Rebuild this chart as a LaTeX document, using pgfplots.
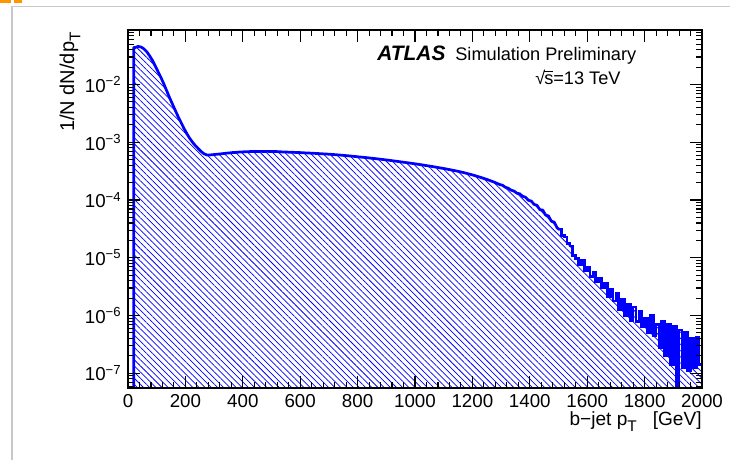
\documentclass[border=0pt]{standalone}
\usepackage{pgfplots}
\pgfplotsset{compat=1.18}
\usepackage{pgfplotstable}
\usetikzlibrary{patterns.meta}
\usepackage{fontspec}
\setmainfont{Liberation Sans}

% full histogram (bin low edges, 10 GeV bins) -- used for the hatched fill
\pgfplotstableread{
x y
20 1e-10
20 4.37e-2
30 4.57e-2
40 4.47e-2
50 4.17e-2
60 3.72e-2
70 3.16e-2
80 2.63e-2
90 2.09e-2
100 1.66e-2
110 1.32e-2
120 1.02e-2
130 7.76e-3
140 5.89e-3
150 4.57e-3
160 3.55e-3
170 2.75e-3
180 2.19e-3
190 1.74e-3
200 1.41e-3
210 1.17e-3
220 1.00e-3
230 8.71e-4
240 7.76e-4
250 6.92e-4
260 6.31e-4
270 6.03e-4
280 6.03e-4
290 6.10e-4
300 6.17e-4
310 6.24e-4
320 6.31e-4
330 6.41e-4
340 6.49e-4
350 6.56e-4
360 6.64e-4
370 6.68e-4
380 6.75e-4
390 6.79e-4
400 6.84e-4
410 6.87e-4
420 6.90e-4
430 6.92e-4
440 6.93e-4
450 6.95e-4
460 6.96e-4
470 6.94e-4
480 6.96e-4
490 6.95e-4
500 6.94e-4
510 6.92e-4
520 6.87e-4
530 6.82e-4
540 6.79e-4
550 6.76e-4
560 6.73e-4
570 6.70e-4
580 6.67e-4
590 6.64e-4
600 6.61e-4
610 6.56e-4
620 6.53e-4
630 6.49e-4
640 6.46e-4
650 6.41e-4
660 6.37e-4
670 6.32e-4
680 6.28e-4
690 6.24e-4
700 6.19e-4
710 6.14e-4
720 6.08e-4
730 6.03e-4
740 5.97e-4
750 5.90e-4
760 5.85e-4
770 5.78e-4
780 5.71e-4
790 5.65e-4
800 5.58e-4
810 5.52e-4
820 5.46e-4
830 5.40e-4
840 5.32e-4
850 5.26e-4
860 5.19e-4
870 5.12e-4
880 5.05e-4
890 4.98e-4
900 4.91e-4
910 4.84e-4
920 4.76e-4
930 4.70e-4
940 4.62e-4
950 4.55e-4
960 4.48e-4
970 4.41e-4
980 4.34e-4
990 4.27e-4
1000 4.20e-4
1010 4.13e-4
1020 4.06e-4
1030 3.98e-4
1040 3.91e-4
1050 3.84e-4
1060 3.77e-4
1070 3.70e-4
1080 3.62e-4
1090 3.55e-4
1100 3.48e-4
1110 3.40e-4
1120 3.33e-4
1130 3.25e-4
1140 3.18e-4
1150 3.10e-4
1160 3.02e-4
1170 2.94e-4
1180 2.85e-4
1190 2.77e-4
1200 2.68e-4
1210 2.59e-4
1220 2.50e-4
1230 2.41e-4
1240 2.32e-4
1250 2.23e-4
1260 2.14e-4
1270 2.05e-4
1280 1.95e-4
1290 1.86e-4
1300 1.78e-4
1310 1.70e-4
1320 1.58e-4
1330 1.51e-4
1340 1.41e-4
1350 1.35e-4
1360 1.26e-4
1370 1.20e-4
1380 1.10e-4
1390 1.02e-4
1400 9.33e-5
1410 8.71e-5
1420 7.94e-5
1430 7.08e-5
1440 6.46e-5
1450 5.75e-5
1460 5.13e-5
1470 4.47e-5
1480 3.98e-5
1490 3.47e-5
1500 2.95e-5
1510 2.45e-5
1520 2.30e-5
1530 1.75e-5
1540 1.60e-5
1550 1.10e-5
1560 9.80e-6
1570 7.60e-6
1580 8.91e-6
1590 6.03e-6
1600 6.76e-6
1610 4.79e-6
1620 5.62e-6
1630 3.80e-6
1640 4.37e-6
1650 3.02e-6
1660 3.55e-6
1670 2.09e-6
1680 2.82e-6
1690 1.78e-6
1700 2.40e-6
1710 1.26e-6
1720 1.91e-6
1730 1.00e-6
1740 1.58e-6
1750 8.32e-7
1760 1.41e-6
1770 7.94e-7
1780 1.20e-6
1790 6.31e-7
1800 8.91e-7
1810 5.01e-7
1820 1.00e-6
1830 4.47e-7
1840 7.08e-7
1850 2.82e-7
1860 7.94e-7
1870 2.00e-7
1880 7.08e-7
1890 1.41e-7
1900 6.61e-7
1910 1e-10
1920 5.62e-7
1930 1.26e-7
1940 5.01e-7
1950 1.12e-7
1960 3.98e-7
1970 1.26e-7
1980 4.17e-7
1990 1.41e-7
2000 1.41e-7
2000 1e-10
}\histdata

% smooth part of the outline (bin centres)
\pgfplotstableread{
x y
20 1e-10
20 4.37e-2
25 4.37e-2
35 4.57e-2
45 4.47e-2
55 4.17e-2
65 3.72e-2
75 3.16e-2
85 2.63e-2
95 2.09e-2
105 1.66e-2
115 1.32e-2
125 1.02e-2
135 7.76e-3
145 5.89e-3
155 4.57e-3
165 3.55e-3
175 2.75e-3
185 2.19e-3
195 1.74e-3
205 1.41e-3
215 1.17e-3
225 1.00e-3
235 8.71e-4
245 7.76e-4
255 6.92e-4
265 6.31e-4
275 6.03e-4
285 6.03e-4
295 6.10e-4
305 6.17e-4
315 6.24e-4
325 6.31e-4
335 6.41e-4
345 6.49e-4
355 6.56e-4
365 6.64e-4
375 6.68e-4
385 6.75e-4
395 6.79e-4
405 6.84e-4
415 6.87e-4
425 6.90e-4
435 6.92e-4
445 6.93e-4
455 6.95e-4
465 6.96e-4
475 6.94e-4
485 6.96e-4
495 6.95e-4
505 6.94e-4
515 6.92e-4
525 6.87e-4
535 6.82e-4
545 6.79e-4
555 6.76e-4
565 6.73e-4
575 6.70e-4
585 6.67e-4
595 6.64e-4
605 6.61e-4
615 6.56e-4
625 6.53e-4
635 6.49e-4
645 6.46e-4
655 6.41e-4
665 6.37e-4
675 6.32e-4
685 6.28e-4
695 6.24e-4
705 6.19e-4
715 6.14e-4
725 6.08e-4
735 6.03e-4
745 5.97e-4
755 5.90e-4
765 5.85e-4
775 5.78e-4
785 5.71e-4
795 5.65e-4
805 5.58e-4
815 5.52e-4
825 5.46e-4
835 5.40e-4
845 5.32e-4
855 5.26e-4
865 5.19e-4
875 5.12e-4
885 5.05e-4
895 4.98e-4
905 4.91e-4
915 4.84e-4
925 4.76e-4
935 4.70e-4
945 4.62e-4
955 4.55e-4
965 4.48e-4
975 4.41e-4
985 4.34e-4
995 4.27e-4
1005 4.20e-4
1015 4.13e-4
1025 4.06e-4
1035 3.98e-4
1045 3.91e-4
1055 3.84e-4
1065 3.77e-4
1075 3.70e-4
1085 3.62e-4
1095 3.55e-4
1105 3.48e-4
1115 3.40e-4
1125 3.33e-4
1135 3.25e-4
1145 3.18e-4
1155 3.10e-4
1165 3.02e-4
1175 2.94e-4
1185 2.85e-4
1195 2.77e-4
1205 2.68e-4
1215 2.59e-4
1225 2.50e-4
1235 2.41e-4
1245 2.32e-4
1255 2.23e-4
1265 2.14e-4
1275 2.05e-4
1285 1.95e-4
1295 1.86e-4
1305 1.80e-4
1315 1.66e-4
1325 1.60e-4
1335 1.48e-4
1345 1.43e-4
1355 1.31e-4
1365 1.28e-4
1375 1.16e-4
1385 1.12e-4
1395 9.90e-5
1405 9.60e-5
1415 8.40e-5
1425 8.10e-5
1435 6.80e-5
1445 6.70e-5
1455 5.50e-5
1465 5.30e-5
1475 4.30e-5
1485 4.15e-5
1495 3.30e-5
1505 3.05e-5
}\smoothdata

% noisy tail of the outline (bin low edges)
\pgfplotstableread{
x y
1505 3.05e-5
1510 2.45e-5
1520 2.30e-5
1530 1.75e-5
1540 1.60e-5
1550 1.10e-5
1560 9.80e-6
1570 7.60e-6
1580 8.91e-6
1590 6.03e-6
1600 6.76e-6
1610 4.79e-6
1620 5.62e-6
1630 3.80e-6
1640 4.37e-6
1650 3.02e-6
1660 3.55e-6
1670 2.09e-6
1680 2.82e-6
1690 1.78e-6
1700 2.40e-6
1710 1.26e-6
1720 1.91e-6
1730 1.00e-6
1740 1.58e-6
1750 8.32e-7
1760 1.41e-6
1770 7.94e-7
1780 1.20e-6
1790 6.31e-7
1800 8.91e-7
1810 5.01e-7
1820 1.00e-6
1830 4.47e-7
1840 7.08e-7
1850 2.82e-7
1860 7.94e-7
1870 2.00e-7
1880 7.08e-7
1890 1.41e-7
1900 6.61e-7
1910 1e-10
1920 5.62e-7
1930 1.26e-7
1940 5.01e-7
1950 1.12e-7
1960 3.98e-7
1970 1.26e-7
1980 4.17e-7
1990 1.41e-7
2000 1.41e-7
}\taildata

\definecolor{framegray}{RGB}{200,200,200}
\definecolor{rootblue}{RGB}{0,0,255}
\definecolor{weborange}{RGB}{255,150,0}

\begin{document}
\begin{tikzpicture}
\useasboundingbox (0,0) rectangle (401.5pt,253pt);
\fill[weborange] (0pt,251.6pt) rectangle (6pt,253pt);
\fill[weborange] (7.5pt,251.6pt) rectangle (12pt,253pt);
\draw[framegray, line width=0.6pt] (6.6pt,0) -- (6.6pt,249.2pt) -- (401.5pt,249.2pt);
\begin{axis}[
  at={(70.4pt,39.6pt)}, anchor=south west,
  scale only axis, width=315.7pt, height=196.9pt,
  ymode=log,
  xmin=0, xmax=2000, ymin=5.56e-8, ymax=0.088,
  xtick={0,200,...,2000}, minor x tick num=4,
  ytick={1e-7,1e-6,1e-5,1e-4,1e-3,1e-2},
  yticklabels={10\textsuperscript{−7},10\textsuperscript{−6},10\textsuperscript{−5},10\textsuperscript{−4},10\textsuperscript{−3},10\textsuperscript{−2}},
  minor ytick={6e-8,7e-8,8e-8,9e-8,
    2e-7,3e-7,4e-7,5e-7,6e-7,7e-7,8e-7,9e-7,
    2e-6,3e-6,4e-6,5e-6,6e-6,7e-6,8e-6,9e-6,
    2e-5,3e-5,4e-5,5e-5,6e-5,7e-5,8e-5,9e-5,
    2e-4,3e-4,4e-4,5e-4,6e-4,7e-4,8e-4,9e-4,
    2e-3,3e-3,4e-3,5e-3,6e-3,7e-3,8e-3,9e-3,
    2e-2,3e-2,4e-2,5e-2,6e-2,7e-2,8e-2},
  tick align=inside,
  major tick length=6.6pt, minor tick length=3.3pt,
  axis line style={line width=0.8pt},
  every tick/.style={black, line width=0.6pt},
  tick label style={font=\fontsize{10.3}{12}\selectfont},
  /pgf/number format/assume math mode=true,
  /pgf/number format/set thousands separator={},
  axis on top,
]
\addplot[draw=none, const plot mark left,
  pattern={Lines[angle=-45,distance=2.4pt,line width=0.4pt]}, pattern color=rootblue]
  table[x=x,y=y] {\histdata};
\addplot[rootblue, line width=1.5pt, line join=round, mark=none]
  table[x=x,y=y] {\smoothdata};
\addplot[rootblue, line width=1.5pt, const plot mark left, mark=none]
  table[x=x,y=y] {\taildata};
\end{axis}
\node[rotate=90, anchor=base east, inner sep=0pt, font=\fontsize{11}{13}\selectfont]
  at (40.7pt,235.4pt) {1/N dN/dp\raisebox{-0.6ex}{\fontsize{8.5}{9}\selectfont T}};
\node[anchor=base east, inner sep=0pt, font=\fontsize{10.5}{12}\selectfont]
  at (386.1pt,18.9pt) {b−jet p\raisebox{-0.6ex}{\fontsize{8.5}{9}\selectfont T}\ \ \ [GeV]};
\node[anchor=base west, inner sep=0pt, font=\fontsize{11.5}{13}\selectfont\bfseries\itshape]
  at (207.35pt,219.45pt) {ATLAS};
\node[anchor=base west, inner sep=0pt, font=\fontsize{10}{12}\selectfont]
  at (250.25pt,219.45pt) {Simulation Preliminary};
\node[anchor=base west, inner sep=0pt, font=\fontsize{10}{12}\selectfont]
  at (294.25pt,206.3pt) {√\kern-0.06em\rlap{\rule[0.7em]{0.5em}{0.05em}}s=13 TeV};
\end{tikzpicture}
\end{document}
